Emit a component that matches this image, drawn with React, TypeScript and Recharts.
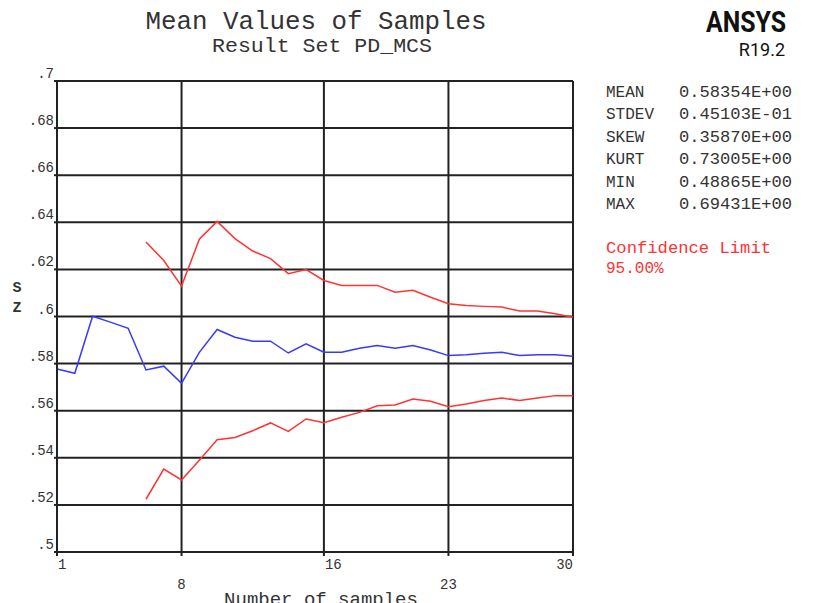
import { LineChart, Line, XAxis, YAxis, CartesianGrid } from 'recharts';

// sample number on x axis
const samples = [
  1, 2, 3, 4, 5, 6, 7, 8, 9, 10, 11, 12, 13, 14, 15,
  16, 17, 18, 19, 20, 21, 22, 23, 24, 25, 26, 27, 28, 29, 30,
];

// mean value of Z after n samples
const meanValues = [
  0.5777, 0.5759, 0.6001, 0.5976, 0.595, 0.5773, 0.5789, 0.5716, 0.5848, 0.5945,
  0.5912, 0.5895, 0.5895, 0.5845, 0.5884, 0.5848, 0.5848, 0.5865, 0.5877, 0.5865,
  0.5877, 0.5858, 0.5834, 0.5838, 0.5844, 0.5848, 0.5834, 0.5838, 0.5838, 0.5831,
];

// 95% confidence limits (none for the first 5 samples)
const upperLimit = [
  null, null, null, null, null, 0.6316, 0.6238, 0.6129, 0.6328, 0.6404,
  0.6331, 0.6278, 0.6246, 0.6182, 0.6199, 0.6153, 0.6132, 0.6132, 0.6132, 0.6103,
  0.6111, 0.6082, 0.6054, 0.6047, 0.6043, 0.604, 0.6023, 0.6023, 0.6012, 0.5997,
];

const lowerLimit = [
  null, null, null, null, null, 0.5224, 0.5352, 0.5306, 0.539, 0.5477,
  0.5486, 0.5515, 0.5548, 0.5512, 0.5565, 0.5549, 0.5572, 0.5593, 0.5621, 0.5624,
  0.565, 0.564, 0.5617, 0.5628, 0.5643, 0.5654, 0.5643, 0.5654, 0.5664, 0.5664,
];

const xTicks = [1, 8, 16, 23, 30];
const yTicks = [0.5, 0.52, 0.54, 0.56, 0.58, 0.6, 0.62, 0.64, 0.66, 0.68, 0.7];

const statNames = ['MEAN', 'STDEV', 'SKEW', 'KURT', 'MIN', 'MAX'];
const statValues = [
  '0.58354E+00',
  '0.45103E-01',
  '0.35870E+00',
  '0.73005E+00',
  '0.48865E+00',
  '0.69431E+00',
];

const MONO = '"Liberation Mono", "DejaVu Sans Mono", monospace';
const TEXT = '#333';

const chartData = samples.map((n, i) => ({
  n,
  mean: meanValues[i],
  upper: upperLimit[i],
  lower: lowerLimit[i],
}));

/** y tick: ".68" style, sitting just above its grid line */
function YTick(props: any) {
  const { x, y, payload } = props;
  const label = Number(payload.value).toFixed(2).replace(/^0/, '').replace(/0$/, '');
  return (
    <text x={x + 2} y={y - 3} textAnchor="end" fontFamily={MONO} fontSize={14} fill={TEXT}>
      {label}
    </text>
  );
}

/** x tick: staggered on two rows like the ANSYS plot */
function XTick(props: any) {
  const { x, y, payload, index } = props;
  const lower = index % 2 === 1;
  let anchor = 'middle';
  if (index === 0 || index === 2) anchor = 'start';
  if (index === xTicks.length - 1) anchor = 'end';
  return (
    <text
      x={x + (anchor === 'start' ? 1 : 0)}
      y={y + (lower ? 31 : 11)}
      textAnchor={anchor}
      fontFamily={MONO}
      fontSize={14}
      fill={TEXT}
    >
      {payload.value}
    </text>
  );
}

export default function App() {
  return (
    <div style={{ position: 'absolute', left: 0, top: 0, width: 813, height: 603, background: '#fff', overflow: 'hidden' }}>
      <LineChart
        width={813}
        height={603}
        data={chartData}
        margin={{ top: 81, right: 240, bottom: 0, left: 0 }}
      >
        <CartesianGrid stroke="#222" strokeWidth={2} />
        <XAxis
          dataKey="n"
          type="number"
          domain={[1, 30]}
          ticks={xTicks}
          height={51}
          axisLine={{ stroke: '#222', strokeWidth: 2 }}
          tickLine={{ stroke: '#222', strokeWidth: 2 }}
          tickSize={4}
          tick={XTick}
          interval={0}
        />
        <YAxis
          type="number"
          domain={[0.5, 0.7]}
          ticks={yTicks}
          width={57}
          axisLine={{ stroke: '#222', strokeWidth: 2 }}
          tickLine={{ stroke: '#222', strokeWidth: 2 }}
          tickSize={3}
          tick={YTick}
          interval={0}
        />
        <Line dataKey="upper" stroke="#ff3333" strokeWidth={1.5} dot={false} isAnimationActive={false} />
        <Line dataKey="lower" stroke="#ff3333" strokeWidth={1.5} dot={false} isAnimationActive={false} />
        <Line dataKey="mean" stroke="#3838ff" strokeWidth={1.5} dot={false} isAnimationActive={false} />
      </LineChart>

      <svg
        width={813}
        height={603}
        style={{ position: 'absolute', left: 0, top: 0, pointerEvents: 'none' }}
      >
        <text x={316} y={29} textAnchor="middle" fontFamily={MONO} fontSize={25} fill={TEXT} textLength={341} lengthAdjust="spacingAndGlyphs">
          Mean Values of Samples
        </text>
        <text x={322} y={52} textAnchor="middle" fontFamily={MONO} fontSize={20} fill={TEXT} textLength={220} lengthAdjust="spacingAndGlyphs">
          Result Set PD_MCS
        </text>
        <text x={706} y={32} fontFamily="Roboto, sans-serif" fontWeight={700} fontSize={30} fill="#111" textLength={80} lengthAdjust="spacingAndGlyphs">
          ANSYS
        </text>
        <text x={785} y={56} textAnchor="end" fontFamily="Roboto, sans-serif" fontSize={18} fill="#111">
          R19.2
        </text>

        <text x={17} y={292} textAnchor="middle" fontFamily={MONO} fontSize={15} fontWeight={700} fill={TEXT}>
          S
        </text>
        <text x={17} y={312} textAnchor="middle" fontFamily={MONO} fontSize={15} fontWeight={700} fill={TEXT}>
          Z
        </text>

        <text x={321} y={605} textAnchor="middle" fontFamily={MONO} fontSize={19} fill={TEXT}>
          Number of samples
        </text>

        {statNames.map((name, i) => (
          <g key={name}>
            <text x={606} y={97 + i * 22.4} fontFamily={MONO} fontSize={16} fill={TEXT}>
              {name}
            </text>
            <text x={679} y={97 + i * 22.4} fontFamily={MONO} fontSize={16} fill={TEXT} textLength={113} lengthAdjust="spacingAndGlyphs">
              {statValues[i]}
            </text>
          </g>
        ))}
        <text x={606} y={253} fontFamily={MONO} fontSize={16} fill="#ff3333" textLength={165} lengthAdjust="spacingAndGlyphs">
          Confidence Limit
        </text>
        <text x={606} y={273} fontFamily={MONO} fontSize={16} fill="#ff3333">
          95.00%
        </text>
      </svg>
    </div>
  );
}
